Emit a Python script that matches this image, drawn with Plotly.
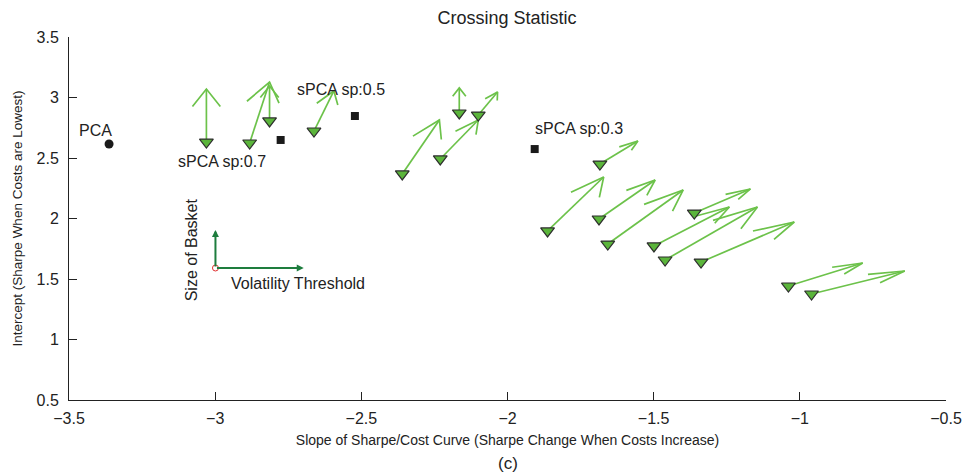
import plotly.graph_objects as go

# ---- data ----
pca_x = [-3.363]
pca_y = [2.616]

spca_x = [-2.776, -2.522, -1.907]
spca_y = [2.649, 2.847, 2.574]

tri_x = [-3.030, -2.882, -2.814, -2.662, -2.360, -2.230, -2.165, -2.100, -1.684,
         -1.863, -1.687, -1.657, -1.361, -1.499, -1.461, -1.338, -1.039, -0.960]
tri_y = [2.632, 2.624, 2.806, 2.723, 2.368, 2.492, 2.872, 2.855, 2.450,
         1.897, 1.996, 1.789, 2.045, 1.773, 1.657, 1.640, 1.442, 1.376]
tip_x = [-3.030, -2.814, -2.814, -2.594, -2.233, -2.100, -2.165, -2.034, -1.554,
         -1.671, -1.495, -1.399, -1.169, -1.241, -1.145, -1.019, -0.785, -0.641]
tip_y = [3.070, 3.128, 3.095, 3.054, 2.814, 2.814, 3.079, 3.045, 2.640,
         2.343, 2.318, 2.236, 2.244, 2.095, 2.095, 1.971, 1.632, 1.566]

labels = ["PCA", "sPCA sp:0.7", "sPCA sp:0.5", "sPCA sp:0.3"]
label_x = [-3.408, -2.978, -2.570, -1.755]
label_y = [2.731, 2.467, 3.070, 2.740]

key_origin = (-2.999, 1.591)
key_vtip_y = 1.905
key_htip_x = -2.697

x_ticks = [-3.5, -3, -2.5, -2, -1.5, -1, -0.5]
y_ticks = [0.5, 1, 1.5, 2, 2.5, 3, 3.5]

FONT = "Liberation Sans, Arial, sans-serif"
TXT = "#222222"
ARROW = "#6cc24a"
KEY = "#1e7d3e"
HEAD = 0.33  # quiver-style arrowhead proportion

fig = go.Figure()

fig.add_trace(go.Scatter(x=pca_x, y=pca_y, mode="markers",
                         marker=dict(symbol="circle", size=9, color="#1a1a1a"),
                         showlegend=False, hoverinfo="skip"))
fig.add_trace(go.Scatter(x=spca_x, y=spca_y, mode="markers",
                         marker=dict(symbol="square", size=8, color="#1a1a1a"),
                         showlegend=False, hoverinfo="skip"))

# quiver arrows (shaft + open head) in data space
ax_, ay_ = [], []
for x0, y0, x1, y1 in zip(tri_x, tri_y, tip_x, tip_y):
    u, v = x1 - x0, y1 - y0
    w1x = x1 - HEAD * (u + HEAD * v)
    w1y = y1 - HEAD * (v - HEAD * u)
    w2x = x1 - HEAD * (u - HEAD * v)
    w2y = y1 - HEAD * (v + HEAD * u)
    ax_ += [x0, x1, None, w1x, x1, w2x, None]
    ay_ += [y0, y1, None, w1y, y1, w2y, None]
fig.add_trace(go.Scatter(x=ax_, y=ay_, mode="lines",
                         line=dict(color=ARROW, width=1.7),
                         showlegend=False, hoverinfo="skip"))

fig.add_trace(go.Scatter(x=tri_x, y=tri_y, mode="markers",
                         marker=dict(symbol="triangle-down", size=12, color="#5bb53b",
                                     line=dict(color="#2e2e2e", width=1.2)),
                         showlegend=False, hoverinfo="skip"))

annotations = []
# key
annotations.append(dict(x=key_origin[0], y=key_vtip_y, ax=key_origin[0], ay=key_origin[1],
                        xref="x", yref="y", axref="x", ayref="y", text="", showarrow=True,
                        arrowhead=2, arrowsize=0.7, arrowwidth=2, arrowcolor=KEY,
                        standoff=0))
annotations.append(dict(x=key_htip_x, y=key_origin[1], ax=key_origin[0], ay=key_origin[1],
                        xref="x", yref="y", axref="x", ayref="y", text="", showarrow=True,
                        arrowhead=2, arrowsize=0.7, arrowwidth=2, arrowcolor=KEY,
                        standoff=0))
fig.add_trace(go.Scatter(x=[key_origin[0]], y=[key_origin[1]], mode="markers",
                         marker=dict(symbol="circle-open", size=6, color="#e03030",
                                     line=dict(width=1)),
                         showlegend=False, hoverinfo="skip"))
annotations.append(dict(x=-2.718, y=1.459, xref="x", yref="y", text="Volatility Threshold",
                        showarrow=False, font=dict(family=FONT, size=16, color=TXT)))
annotations.append(dict(x=-3.078, y=1.740, xref="x", yref="y", text="Size of Basket",
                        showarrow=False, textangle=-90,
                        font=dict(family=FONT, size=16, color=TXT)))

for t, x, y in zip(labels, label_x, label_y):
    annotations.append(dict(x=x, y=y, xref="x", yref="y", text=t, showarrow=False,
                            font=dict(family=FONT, size=16, color=TXT)))

annotations.append(dict(x=0.5, y=-0.175, xref="paper", yref="paper", text="(c)",
                        showarrow=False, yanchor="middle",
                        font=dict(family=FONT, size=17, color=TXT)))

fig.update_layout(
    width=962, height=475,
    margin=dict(l=69, r=16, t=37, b=75, autoexpand=False),
    paper_bgcolor="white", plot_bgcolor="white",
    title=dict(text="Crossing Statistic", x=0.527, xanchor="center", y=0.962, yanchor="middle",
               font=dict(family=FONT, size=18, color=TXT)),
    font=dict(family=FONT, color=TXT),
    annotations=annotations,
    xaxis=dict(range=[-3.5, -0.5], tickvals=x_ticks, ticks="inside", ticklen=8,
               tickcolor="#222", showline=True, linecolor="#222", linewidth=1,
               showgrid=False, zeroline=False, ticklabelstandoff=4,
               ticklabeloverflow="allow", automargin=False,
               tickfont=dict(size=16, family=FONT, color=TXT),
               title=dict(text="Slope of Sharpe/Cost Curve (Sharpe Change When Costs Increase)",
                          font=dict(size=14, family=FONT, color=TXT), standoff=8)),
    yaxis=dict(range=[0.5, 3.5], tickvals=y_ticks, ticks="inside", ticklen=8,
               tickcolor="#222", showline=True, linecolor="#222", linewidth=1,
               showgrid=False, zeroline=False, ticklabelstandoff=6, automargin=False,
               tickfont=dict(size=16, family=FONT, color=TXT),
               title=dict(text="Intercept (Sharpe When Costs are Lowest)",
                          font=dict(size=13.5, family=FONT, color=TXT), standoff=10)),
)

fig.write_html("out.html")
